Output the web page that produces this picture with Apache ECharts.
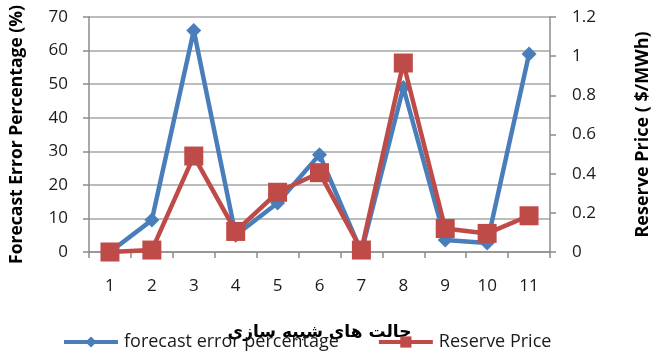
<!DOCTYPE html>
<html>
<head>
<meta charset="utf-8">
<script src="https://cdn.jsdelivr.net/npm/echarts@6/dist/echarts.min.js"></script>
<style>
  html, body { margin: 0; padding: 0; background: #ffffff; }
  #chart { width: 660px; height: 353px; }
</style>
</head>
<body>
<div id="chart"></div>
<script>
// Simulation cases on the x axis
const categories = ['1', '2', '3', '4', '5', '6', '7', '8', '9', '10', '11'];
// Forecast error percentage (%), left axis
const forecastError = [0, 9.5, 66, 5, 14.6, 29, 0, 49, 3.6, 2.7, 59];
// Reserve price ($/MWh), right axis
const reservePrice = [0, 0.01, 0.49, 0.105, 0.305, 0.405, 0.01, 0.965, 0.12, 0.095, 0.185];

const FONT = 'Open Sans';
const axisGray = '#8c8c8c';

const chart = echarts.init(document.getElementById('chart'), null, { renderer: 'canvas' });

chart.setOption({
  animation: false,
  backgroundColor: '#ffffff',
  textStyle: { fontFamily: FONT },
  grid: { left: 85, right: 108, top: 17, bottom: 101, containLabel: false },
  legend: {
    left: 57,
    top: 328,
    itemWidth: 54,
    itemHeight: 14,
    itemGap: 38,
    lineStyle: { width: 4 },
    textStyle: { fontFamily: FONT, fontSize: 18, color: '#1a1a1a', padding: [0, 0, 0, 1] },
    data: [
      { name: 'forecast error percentage' },
      { name: 'Reserve Price' }
    ]
  },
  xAxis: {
    type: 'category',
    data: categories,
    boundaryGap: true,
    name: 'حالت های شبیه سازی',
    nameLocation: 'middle',
    nameGap: 72,
    nameTextStyle: { fontFamily: 'DejaVu Sans', fontWeight: 'bold', fontSize: 17, color: '#000' },
    axisLine: { lineStyle: { color: axisGray, width: 1.5 } },
    axisTick: { show: true, inside: false, length: 6, alignWithLabel: false, lineStyle: { color: axisGray, width: 1.5 } },
    axisLabel: { margin: 26, fontFamily: FONT, fontSize: 17, color: '#1a1a1a' },
    splitLine: { show: false }
  },
  yAxis: [
    {
      type: 'value',
      min: 0,
      max: 70,
      interval: 10,
      name: 'Forecast Error Percentage (%)',
      nameLocation: 'middle',
      nameRotate: 90,
      nameGap: 63,
      nameTextStyle: { fontFamily: FONT, fontWeight: 'bold', fontSize: 17.5, color: '#000', padding: [0, 0, 0, 0] },
      axisLine: { show: true, lineStyle: { color: axisGray, width: 1.5 } },
      axisTick: { show: true, length: 6, lineStyle: { color: axisGray, width: 1.5 } },
      axisLabel: { margin: 21, fontFamily: FONT, fontSize: 17, color: '#1a1a1a' },
      splitLine: { show: true, lineStyle: { color: '#a6a6a6', width: 1.5 } }
    },
    {
      type: 'value',
      position: 'right',
      min: 0,
      max: 1.2,
      interval: 0.2,
      name: 'Reserve Price ( $/MWh)',
      nameLocation: 'middle',
      nameRotate: 90,
      nameGap: 84,
      nameTextStyle: { fontFamily: FONT, fontWeight: 'bold', fontSize: 18, color: '#000' },
      axisLine: { show: true, lineStyle: { color: axisGray, width: 1.5 } },
      axisTick: { show: true, length: 6, lineStyle: { color: axisGray, width: 1.5 } },
      axisLabel: { margin: 22, fontFamily: FONT, fontSize: 17, color: '#1a1a1a' },
      splitLine: { show: false }
    }
  ],
  series: [
    {
      name: 'forecast error percentage',
      type: 'line',
      yAxisIndex: 0,
      data: forecastError,
      symbol: 'diamond',
      symbolSize: 15,
      lineStyle: { color: '#4a7ebb', width: 4.5 },
      itemStyle: { color: '#4a7ebb' },
      z: 2
    },
    {
      name: 'Reserve Price',
      type: 'line',
      yAxisIndex: 1,
      data: reservePrice,
      symbol: 'rect',
      symbolSize: 19,
      lineStyle: { color: '#be4b48', width: 4.5 },
      itemStyle: { color: '#be4b48' },
      z: 3
    }
  ]
});
</script>
</body>
</html>
